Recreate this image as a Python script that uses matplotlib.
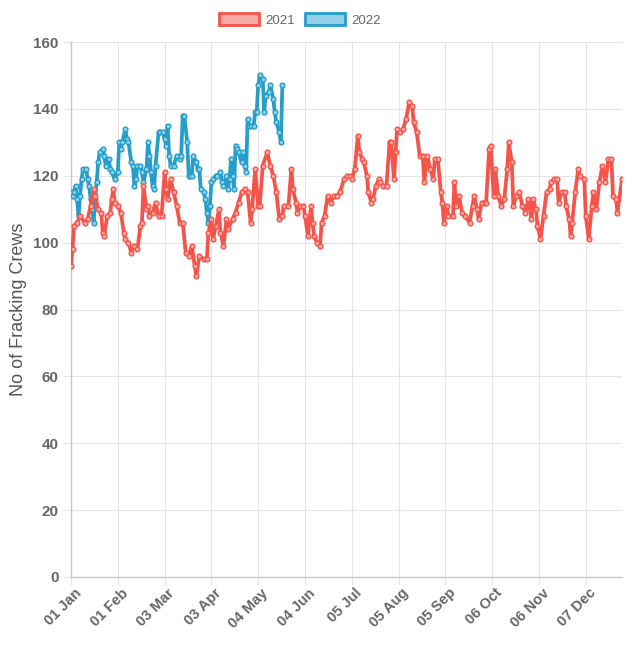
import datetime as dt
import matplotlib
matplotlib.use("Agg")
import matplotlib.pyplot as plt
import matplotlib.transforms as mtransforms
from matplotlib.patches import Patch

plt.rcParams["font.family"] = ["Liberation Sans", "DejaVu Sans"]

# day labels (category axis, one per day, leap-year calendar as in the source)
start = dt.date(2020, 1, 1)
day_labels = [(start + dt.timedelta(days=i)).strftime("%d %b") for i in range(366)]
tick_days = list(range(0, 366, 31))

# 2021 - day index, crews
days_2021 = [0, 1, 2, 4, 6, 9, 11, 13, 15, 16, 18, 20, 21, 22, 24, 26, 27, 28, 29, 31,
             33, 35, 36, 38, 40, 42, 44, 46, 47, 48, 50, 51, 52, 54, 56, 58, 60, 62, 63, 64,
             66, 68, 70, 72, 74, 76, 78, 80, 82, 83, 85, 88, 90, 91, 93, 94, 96, 98, 99, 101,
             103, 104, 107, 109, 111, 113, 115, 117, 119, 120, 122, 124, 125, 127, 130, 132, 134, 136, 138, 140,
             141, 144, 146, 147, 149, 150, 152, 154, 155, 157, 159, 160, 161, 163, 165, 166, 168, 170, 172, 174,
             176, 178, 181, 183, 185, 186, 188, 190, 191, 193, 194, 196, 197, 199, 200, 202, 204, 205, 207, 209,
             211, 212, 214, 215, 216, 218, 220, 222, 224, 226, 227, 229, 231, 233, 234, 236, 238, 240, 241, 243,
             245, 246, 247, 249, 250, 253, 254, 255, 257, 259, 261, 264, 266, 267, 269, 270, 272, 274, 275, 277,
             278, 280, 281, 283, 285, 287, 289, 290, 292, 293, 295, 297, 299, 301, 303, 305, 306, 308, 309, 311,
             313, 315, 317, 318, 320, 322, 323, 325, 327, 328, 330, 331, 332, 334, 336, 337, 340, 341, 343, 345,
             346, 348, 350, 352, 354, 356, 358, 359, 361, 362, 365]
crews_2021 = [93, 98, 105, 106, 108, 106, 107, 111, 116, 114, 110, 109, 103, 102, 108, 109, 113, 116, 112, 111,
              109, 103, 101, 100, 97, 99, 98, 105, 106, 117, 110, 111, 108, 109, 112, 108, 108, 121, 116, 113,
              119, 115, 111, 106, 106, 97, 96, 99, 93, 90, 96, 95, 95, 103, 107, 101, 105, 110, 103, 99,
              107, 104, 107, 109, 112, 115, 116, 115, 106, 110, 122, 111, 111, 123, 127, 123, 120, 115, 107, 108,
              111, 111, 122, 116, 112, 109, 111, 111, 108, 102, 111, 106, 102, 100, 99, 106, 108, 114, 112, 114,
              114, 115, 119, 120, 120, 119, 122, 132, 127, 125, 124, 120, 115, 112, 113, 117, 119, 118, 117, 117,
              130, 130, 119, 127, 134, 133, 134, 137, 142, 141, 136, 133, 126, 126, 118, 126, 122, 119, 125, 125,
              115, 112, 106, 111, 108, 108, 118, 111, 114, 109, 108, 106, 111, 114, 110, 107, 112, 112, 112, 128,
              129, 114, 122, 114, 111, 113, 122, 130, 124, 111, 114, 115, 111, 109, 113, 107, 113, 110, 105, 101,
              108, 115, 116, 118, 119, 119, 112, 115, 115, 111, 107, 102, 106, 115, 122, 120, 119, 108, 101, 111,
              115, 110, 118, 123, 118, 125, 125, 114, 113, 109, 119]

# 2022 - day index, crews
days_2022 = [0, 1, 2, 3, 4, 5, 6, 7, 8, 10, 11, 12, 13, 14, 15, 16, 17, 18, 19, 21,
             22, 23, 25, 26, 27, 29, 31, 32, 33, 34, 36, 37, 38, 40, 41, 42, 43, 44, 46, 47,
             48, 50, 51, 52, 53, 54, 55, 56, 58, 59, 61, 62, 63, 64, 65, 66, 68, 70, 72, 73,
             74, 75, 77, 78, 79, 80, 81, 83, 84, 85, 86, 88, 89, 90, 91, 92, 93, 94, 96, 97,
             99, 100, 101, 103, 104, 105, 106, 107, 108, 109, 110, 111, 113, 114, 115, 116, 117, 118, 119, 121,
             122, 123, 124, 125, 127, 128, 129, 131, 132, 134, 135, 136, 138, 139, 140]
crews_2022 = [115, 114, 115, 117, 113, 108, 114, 119, 122, 122, 119, 117, 113, 110, 106, 113, 118, 124, 127, 128,
              126, 123, 125, 122, 121, 119, 121, 130, 128, 130, 134, 131, 130, 124, 123, 117, 119, 123, 123, 121,
              118, 122, 130, 126, 121, 117, 116, 123, 133, 133, 133, 131, 129, 135, 126, 123, 123, 126, 125, 126,
              138, 138, 130, 120, 120, 120, 126, 124, 122, 122, 116, 115, 113, 109, 106, 111, 118, 119, 120, 120,
              121, 118, 117, 120, 116, 119, 125, 120, 116, 129, 128, 127, 124, 127, 123, 121, 137, 135, 135, 135,
              139, 139, 147, 150, 149, 139, 144, 145, 147, 143, 139, 136, 133, 130, 147]

red = "#f5544a"
red_fill = "#f9a9a4"
blue = "#259ec9"
blue_fill = "#93d0e6"
grey = "#666666"

fig = plt.figure(figsize=(6.41, 6.51), dpi=100)
ax = fig.add_axes([71 / 641, 1 - 577 / 651, (622 - 71) / 641, (577 - 42) / 651])

ax.plot(days_2022, crews_2022, color=blue, lw=2.7, marker="o", ms=3.4,
        mfc=blue_fill, mec=blue, mew=1, zorder=3)
ax.plot(days_2021, crews_2021, color=red, lw=2.7, marker="o", ms=3.4,
        mfc=red_fill, mec=red, mew=1, zorder=4)

ax.set_xlim(0, 365)
ax.set_ylim(0, 160)
ax.set_yticks(range(0, 161, 20))
ax.set_xticks(tick_days)
ax.set_xticklabels([day_labels[i] for i in tick_days], rotation=45, ha="right",
                   va="center", rotation_mode="anchor")

ax.grid(True, color="#e4e4e4", lw=0.8)
ax.set_axisbelow(True)
for s in ["top", "right"]:
    ax.spines[s].set_visible(False)
for s in ["left", "bottom"]:
    ax.spines[s].set_color("#c8c8c8")
    ax.spines[s].set_linewidth(1)

ax.tick_params(axis="both", length=6, width=0.8, color="#e4e4e4",
               labelcolor=grey, pad=3)
ax.tick_params(axis="y", labelsize=11)
ax.tick_params(axis="x", labelsize=10.5, pad=4)
shift = mtransforms.ScaledTranslation(8 / 100, 0, fig.dpi_scale_trans)
for lab in ax.get_xticklabels():
    lab.set_fontweight("bold")
    lab.set_transform(lab.get_transform() + shift)
for lab in ax.get_yticklabels():
    lab.set_fontweight("bold")

ax.set_ylabel("No of Fracking Crews", fontsize=13, color="#555555", labelpad=4)

handles = [Patch(facecolor=red_fill, edgecolor=red, lw=2, label="2021"),
           Patch(facecolor=blue_fill, edgecolor=blue, lw=2, label="2022")]
fig.legend(handles=handles, loc="center", bbox_to_anchor=(300 / 641, 1 - 20 / 651),
           ncol=2, frameon=False, fontsize=9.5, labelcolor=grey,
           handlelength=3.0, handleheight=1.0, handletextpad=0.5, columnspacing=0.8)

fig.savefig("out.png", dpi=100)
